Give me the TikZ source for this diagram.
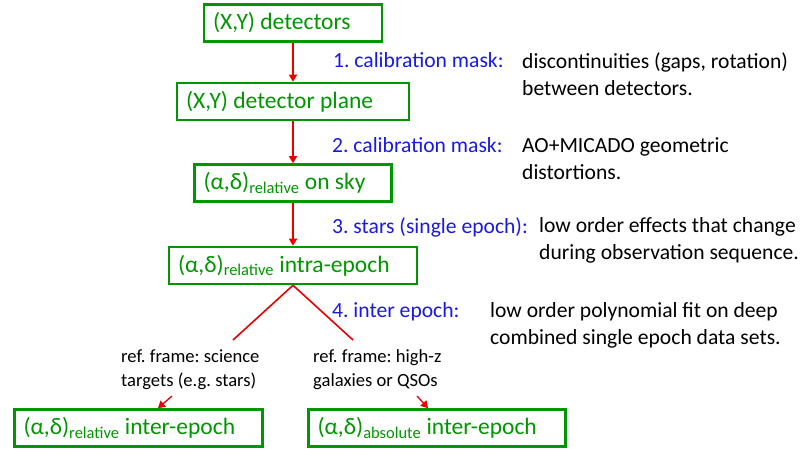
\documentclass[tikz,border=0pt]{standalone}
\usepackage{fontspec}
\setmainfont{Carlito}
\usetikzlibrary{arrows.meta}
\definecolor{boxgreen}{RGB}{0,150,0}
\definecolor{steptext}{RGB}{25,25,230}
\definecolor{flowred}{RGB}{235,0,0}
\frenchspacing

\begin{document}
\begin{tikzpicture}[x=1pt, y=-1pt]
            \tikzstyle{stage} = [draw=boxgreen, line width=2.6pt, text=boxgreen, font=\fontsize{23.5}{28}\selectfont, execute at begin node={\spaceskip=0.226em\relax}, inner xsep=9pt, inner ysep=0pt, minimum height=37pt, align=left]
            \tikzstyle{flow} = [draw=flowred, line width=1.6pt, -{Triangle[length=7pt, width=8pt]}]
            \tikzstyle{split} = [draw=flowred, line width=1.6pt]
            \tikzstyle{steplabel} = [anchor=west, text=steptext, inner sep=0pt, font=\fontsize{21.6}{27}\selectfont]
            \tikzstyle{remark} = [anchor=west, inner sep=0pt, align=left, font=\fontsize{21.6}{27}\selectfont]
            \tikzstyle{frame} = [anchor=west, inner sep=0pt, align=left, font=\fontsize{18.6}{24}\selectfont]
            \useasboundingbox (0, 0) rectangle (803, 453);
            % stages of the calibration chain
            \node[stage, text width=160pt] (det) at (293, 23) {(X,Y) detectors};
            \node[stage, text width=214pt] (plane) at (293, 101.5) {(X,Y) detector plane};
            \node[stage, text width=179pt] (sky) at (293, 183) {(α,δ)\textsubscript{relative} on sky};
            \node[stage, text width=230pt] (intra) at (293, 265.5) {(α,δ)\textsubscript{relative} intra-epoch};
            \node[stage, text width=230pt] (relinter) at (138.5, 428) {(α,δ)\textsubscript{relative} inter-epoch};
            \node[stage, text width=239pt] (absinter) at (437, 428) {(α,δ)\textsubscript{absolute} inter-epoch};
            \draw[flow] (det) -- (plane);
            \draw[flow] (plane) -- (sky);
            \draw[flow] (sky) -- (intra);
            % branch to the two reference frames
            \coordinate (splitL) at (233, 340);
            \coordinate (splitR) at (353, 340);
            \draw[split] (intra.south) -- (splitL);
            \draw[split] (intra.south) -- (splitR);
            \node[frame] (frameL) at (121, 370) {ref. frame: science\\targets (e.g. stars)};
            \node[frame] (frameR) at (313, 370) {ref. frame: high-z\\galaxies or QSOs};
            \coordinate (tipL) at (172, 396);
            \coordinate (tipR) at (417, 396);
            \draw[flow, line width=1.3pt] (tipL) -- (relinter.north -| 158, 0);
            \draw[flow, line width=1.3pt] (tipR) -- (absinter.north -| 428, 0);
            % steps and what they correct
            \node[steplabel] (s1) at (333, 60) {1. calibration mask:};
            \node[remark] (r1) at (522, 74) {discontinuities (gaps, rotation)\\between detectors.};
            \node[steplabel] (s2) at (332, 145) {2. calibration mask:};
            \node[remark] (r2) at (522, 159) {AO+MICADO geometric\\distortions.};
            \node[steplabel] (s3) at (332, 227) {3. stars (single epoch):};
            \node[remark] (r3) at (539, 240) {low order effects that change\\during observation sequence.};
            \node[steplabel] (s4) at (332, 312) {4. inter epoch:};
            \node[remark] (r4) at (490, 325) {low order polynomial fit on deep\\combined single epoch data sets.};
        \end{tikzpicture}
\end{document}
